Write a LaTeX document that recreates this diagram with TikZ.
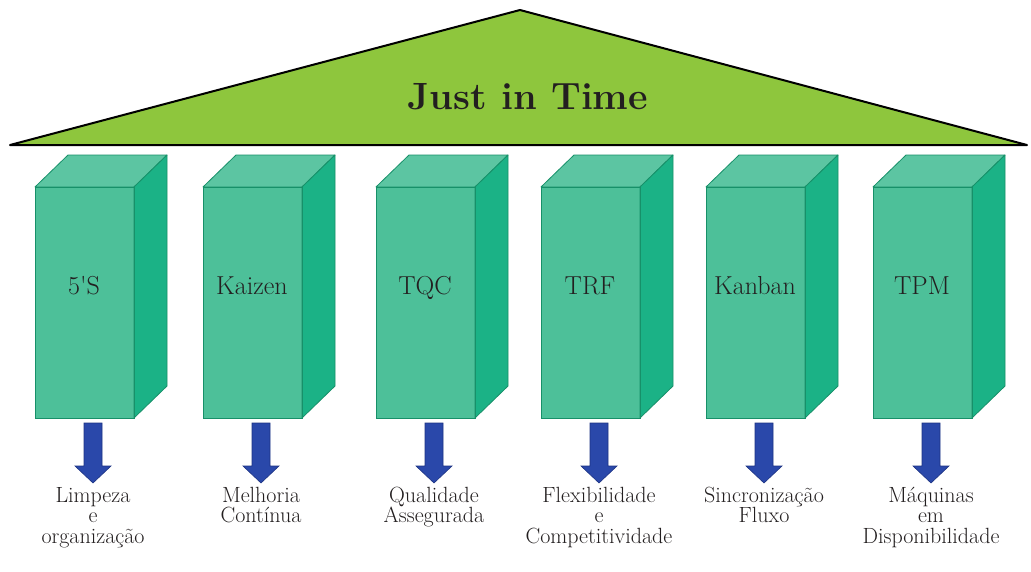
\documentclass[tikz,border=0pt]{standalone}
\usepackage{fontspec}
\usepackage{tikz}
\usetikzlibrary{calc}
\definecolor{roofgreen}{HTML}{8EC63D}
\definecolor{frontface}{HTML}{4DC099}
\definecolor{topface}{HTML}{5CC5A2}
\definecolor{sideface}{HTML}{1BB286}
\definecolor{pillaredge}{HTML}{179069}
\definecolor{arrowblue}{HTML}{2A48AA}
\definecolor{arrowedge}{HTML}{1D3383}
\definecolor{inktext}{HTML}{231F20}
\begin{document}
\begin{tikzpicture}[x=1pt,y=-1pt,
  roof/.style={fill=roofgreen,draw=black,line width=2pt,line join=round},
  pillarfront/.style={draw=pillaredge,fill=frontface,line width=0.8pt,minimum width=99pt,minimum height=231pt,inner sep=0pt,outer sep=0pt},
  pillartop/.style={draw=pillaredge,fill=topface,line width=0.8pt,line join=round},
  pillarside/.style={draw=pillaredge,fill=sideface,line width=0.8pt,line join=round},
  pillarlabel/.style={text=inktext,font=\fontsize{26}{26}\selectfont,anchor=base,inner sep=0pt},
  downarrow/.style={fill=arrowblue,draw=arrowedge,line width=0.6pt,line join=miter},
  outcome/.style={text=inktext,font=\fontsize{22}{20.5}\selectfont,align=center,anchor=north,inner sep=0pt}
]
\useasboundingbox (0,0) rectangle (1031,571);
\fill[white] (0,0) rectangle (1031,571);

% roof
\coordinate (roofL) at (10,145);
\coordinate (roofT) at (520,10);
\coordinate (roofR) at (1027,145);
\draw[roof] (roofL) -- (roofT) -- (roofR) -- cycle;
\node[text=inktext,font=\fontsize{38}{38}\selectfont\bfseries,anchor=base,inner sep=0pt] (jit) at (528,109) {Just in Time};

% pillars: left edge / name / pillar label / outcome text
\foreach \lx/\nm/\lab/\out in {
  35/p1/{5\textquotesingle S}/{Limpeza\\e\\organização},
  203/p2/{Kaizen}/{Melhoria\\Contínua},
  376/p3/{TQC}/{Qualidade\\Assegurada},
  541/p4/{TRF}/{Flexibilidade\\e\\Competitividade},
  706/p5/{Kanban}/{Sincronização\\Fluxo},
  873/p6/{TPM}/{Máquinas\\em\\Disponibilidade}} {
  \node[pillarfront] (\nm) at (\lx+49.5,302.5) {};
  \draw[pillartop] (\nm.north west) -- ++(33,-32) -- ++(99,0) -- (\nm.north east) -- cycle;
  \draw[pillarside] (\nm.north east) -- ++(33,-32) -- ++(0,231) -- (\nm.south east) -- cycle;
  \draw[pillaredge,line width=0.8pt] (\nm.north west) rectangle (\nm.south east);
  \node[pillarlabel] (\nm lab) at (\lx+49,294) {\lab};
  % block arrow below the pillar
  \coordinate (\nm a) at (\lx+58,423);
  \draw[downarrow] ($(\nm a)+(-9,0)$) -- ($(\nm a)+(9,0)$) -- ($(\nm a)+(9,43)$) -- ($(\nm a)+(18,43)$)
     -- ($(\nm a)+(0,60)$) -- ($(\nm a)+(-18,43)$) -- ($(\nm a)+(-9,43)$) -- cycle;
  % first line given a fixed height so all baselines line up
  \node[outcome] (\nm out) at (\lx+58,484) {\rule{0pt}{18pt}\out};
}
\end{tikzpicture}
\end{document}
